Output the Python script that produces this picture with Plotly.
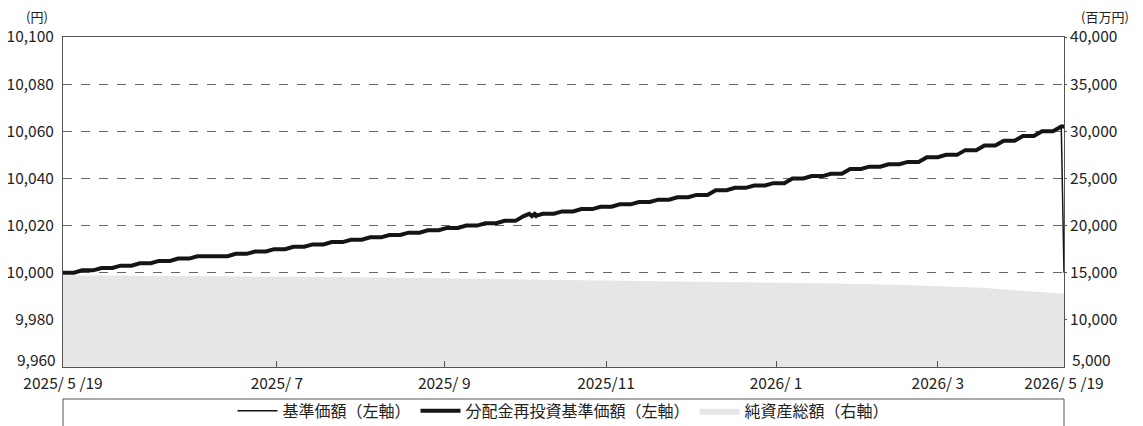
import pandas as pd
import plotly.graph_objects as go

# ---- data ----
# weekly (Monday) NAV of the reinvested series, yen
week_starts = [d.strftime("%Y-%m-%d") for d in pd.date_range("2025-05-19", "2026-05-18", freq="7D")]
weekly_nav = [
    10000, 10001, 10002, 10003, 10004, 10005,
    10006, 10007, 10007, 10008, 10009, 10010,
    10011, 10012, 10013, 10014, 10015, 10016,
    10017, 10018, 10019, 10020, 10021, 10022,
    10024, 10025, 10026, 10027, 10028, 10029,
    10030, 10031, 10032, 10033, 10035, 10036,
    10037, 10038, 10040, 10041, 10042, 10044,
    10045, 10046, 10047, 10049, 10050, 10052,
    10054, 10056, 10058, 10060, 10062,
]
# small zig-zag seen in early November
detail_dates = ["2025-11-05", "2025-11-06", "2025-11-07", "2025-11-08"]
detail_nav = [10025, 10024, 10025, 10024]

last_date = "2026-05-19"
last_reinvested = 10062
last_base = 10000          # after distribution

asset_dates = [
    "2025-05-19", "2025-06-19", "2025-07-19", "2025-08-19", "2025-09-19", "2025-10-19",
    "2025-11-19", "2025-12-19", "2026-01-19", "2026-02-19", "2026-03-19", "2026-04-19",
    "2026-05-19",
]
net_assets = [
    14720, 14690, 14630, 14560, 14470, 14370,
    14270, 14160, 14000, 13880, 13720, 13400,
    12780,
]

tick_dates = ["2025-05-19", "2025-08-05", "2025-10-05", "2025-12-03", "2026-02-03", "2026-04-03", "2026-05-19"]
tick_labels = ["2025/ 5 /19", "2025/ 7", "2025/ 9", "2025/11", "2026/ 1", "2026/ 3", "2026/ 5 /19"]

left_ticks = [9960, 9980, 10000, 10020, 10040, 10060, 10080, 10100]
right_ticks = [5000, 10000, 15000, 20000, 25000, 30000, 35000, 40000]

# ---- build staircase points: flat Mon..Fri, rise over the weekend ----
xs, ys = [], []
for d, v in zip(week_starts, weekly_nav):
    mon = pd.Timestamp(d)
    xs.append(mon.strftime("%Y-%m-%d")); ys.append(v)
    if d == "2025-11-03":
        xs += detail_dates; ys += detail_nav
    xs.append((mon + pd.Timedelta(days=4)).strftime("%Y-%m-%d")); ys.append(v)
pts = [(x, y) for x, y in zip(xs, ys) if x <= "2026-05-18"]
xs = [p[0] for p in pts]; ys = [p[1] for p in pts]

x_re = xs + [last_date]
y_re = ys + [last_reinvested]
x_base = xs + [last_date]
y_base = ys + [last_base]

FONT = "Noto Sans CJK JP"
AX = "#555555"
TICK_SIZE = 15.5

fig = go.Figure()
fig.add_trace(go.Scatter(
    x=asset_dates, y=net_assets, yaxis="y2", name="純資産総額（右軸）",
    mode="lines", fill="tozeroy", fillcolor="#e6e6e6",
    line=dict(color="#e6e6e6", width=0), legendrank=3,
))
fig.add_trace(go.Scatter(
    x=x_re, y=y_re, name="分配金再投資基準価額（左軸）",
    mode="lines", line=dict(color="#151515", width=4), legendrank=2,
))
fig.add_trace(go.Scatter(
    x=x_base, y=y_base, name="基準価額（左軸）",
    mode="lines", line=dict(color="#151515", width=1.5), legendrank=1,
))

# bottom-most y labels are nudged up (as in the reference) so they clear the date labels
annotations = [
    dict(text="(円)", xref="paper", yref="paper", x=-0.026, y=1.0625,
         xanchor="center", yanchor="middle", showarrow=False, font=dict(size=13)),
    dict(text="(百万円)", xref="paper", yref="paper", x=1.041, y=1.0625,
         xanchor="center", yanchor="middle", showarrow=False, font=dict(size=13)),
    dict(text=f"{left_ticks[0]:,}", xref="paper", yref="y", x=0, y=left_ticks[0],
         xanchor="right", yanchor="middle", xshift=-5, yshift=8, showarrow=False,
         font=dict(size=TICK_SIZE)),
    dict(text=f"{right_ticks[0]:,}", xref="paper", yref="y2", x=1, y=right_ticks[0],
         xanchor="left", yanchor="middle", xshift=6, yshift=8, showarrow=False,
         font=dict(size=TICK_SIZE)),
]

# page body has an 8px margin, so the figure is offset by (8, 8)
fig.update_layout(
    width=1135, height=418,
    margin=dict(l=55, r=79, t=29, b=59, autoexpand=False),
    paper_bgcolor="white", plot_bgcolor="white",
    font=dict(family=FONT, size=TICK_SIZE, color="#222222"),
    showlegend=True,
    legend=dict(orientation="h", x=0.5, xanchor="center", y=-0.133, yanchor="middle",
                bgcolor="rgba(0,0,0,0)", font=dict(size=16), itemwidth=40,
                traceorder="normal"),
    xaxis=dict(
        type="date", range=["2025-05-19", "2026-05-19"],
        tickvals=tick_dates, ticktext=tick_labels,
        ticks="inside", ticklen=6, tickcolor=AX, ticklabelstandoff=2,
        showline=True, linecolor=AX, linewidth=1, mirror=True,
        showgrid=False, zeroline=False, automargin=False,
    ),
    yaxis=dict(
        range=[9960, 10100], tickvals=left_ticks[1:], tickformat=",d",
        showline=True, linecolor=AX, linewidth=1,
        showgrid=True, gridcolor="#666666", griddash="dash", gridwidth=1,
        zeroline=False, ticks="", ticklabelstandoff=5, automargin=False,
    ),
    yaxis2=dict(
        range=[5000, 40000], tickvals=right_ticks[1:], tickformat=",d",
        overlaying="y", side="right",
        showline=True, linecolor=AX, linewidth=1,
        showgrid=False, zeroline=False, ticks="outside", ticklen=2, tickcolor=AX,
        automargin=False,
    ),
    shapes=[dict(type="rect", xref="paper", yref="paper",
                 x0=0, x1=1, y0=-0.097, y1=-0.3,
                 line=dict(color=AX, width=1), fillcolor="rgba(0,0,0,0)", layer="below")],
    annotations=annotations,
)

fig.write_html("out.html")
